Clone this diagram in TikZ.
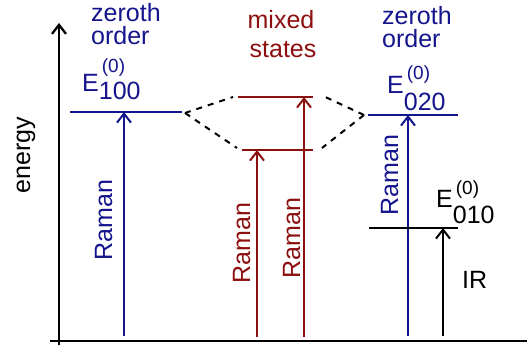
\documentclass[tikz,border=0pt]{standalone}
\usepackage{fontspec}
\setmainfont{Liberation Sans}
\usetikzlibrary{arrows.meta}
\definecolor{zblue}{RGB}{20,20,140}
\definecolor{mred}{RGB}{140,15,15}
\newcommand{\Elab}[3]{E\rlap{\hspace{3pt}\raisebox{#1}{\fontsize{19}{19}\selectfont(0)}}\raisebox{-#2}{#3}}
\begin{document}
\begin{tikzpicture}[x=1pt,y=-1pt,
  every node/.style={inner sep=0pt, font=\fontsize{25}{23}\selectfont},
  lvl/.style={line width=2.3pt},
  tr/.style={line width=2pt, -{Straight Barb[length=9pt,width=14pt]}},
  conn/.style={line width=2pt, dash pattern=on 6pt off 6pt},
  lab/.style={anchor=base west},
  clab/.style={anchor=base},
  vlab/.style={rotate=90, anchor=base}]
\useasboundingbox (0,0) rectangle (527,345);
% axes
\coordinate (ytop) at (59,23);
\coordinate (ybot) at (59,345);
\coordinate (xl) at (50,341);
\coordinate (xr) at (527,341);
\draw[line width=2.3pt, -{Straight Barb[length=9pt,width=14pt]}] (ybot) -- (ytop);
\draw[line width=2.3pt] (xl) -- (xr);
\node[vlab] (energy) at (30,155) {energy};
% left zeroth order
\node[lab, text=zblue] (zt1) at (91,22) {zeroth};
\node[lab, text=zblue] (zo1) at (91,45) {order};
\node[lab, text=zblue] (e100) at (82,92) {\Elab{19pt}{8pt}{100}};
\coordinate (l100w) at (70,112);
\coordinate (l100e) at (182,112);
\draw[lvl, zblue] (l100w) -- (l100e);
\coordinate (r1b) at (124,336);
\coordinate (r1t) at (124,112);
\draw[tr, zblue] (r1b) -- (r1t);
\node[vlab, text=zblue] (ram1) at (112,220) {Raman};
% mixed states
\node[clab, text=mred] (mx) at (281,29) {mixed};
\node[clab, text=mred] (st) at (283,58) {states};
\coordinate (upw) at (238,97);
\coordinate (upe) at (313,97);
\coordinate (lowjw) at (242,150);
\coordinate (lowe) at (313,150);
\draw[lvl, mred] (upw) -- (upe);
\draw[lvl, mred] (lowjw) -- (lowe);
\coordinate (r2b) at (257,337);
\coordinate (r2t) at (257,150);
\coordinate (r3b) at (304,337);
\coordinate (r3t) at (304,97);
\draw[tr, mred] (r2b) -- (r2t);
\draw[tr, mred] (r3b) -- (r3t);
\node[vlab, text=mred] (ram2) at (250,243) {Raman};
\node[vlab, text=mred] (ram3) at (300,238) {Raman};
% dashed connectors
\coordinate (lapex) at (185,113);
\coordinate (rapex) at (364,115);
\coordinate (d1) at (233,97);
\coordinate (d2) at (237,148);
\coordinate (d3) at (321,95);
\coordinate (d4) at (322,148);
\draw[conn] (lapex) -- (d1);
\draw[conn] (lapex) -- (d2);
\draw[conn] (rapex) -- (d3);
\draw[conn] (rapex) -- (d4);
% right zeroth order
\node[lab, text=zblue] (zt2) at (382,25) {zeroth};
\node[lab, text=zblue] (zo2) at (382,48) {order};
\node[lab, text=zblue] (e020) at (387,93) {\Elab{14pt}{17pt}{020}};
\coordinate (l020w) at (368,115);
\coordinate (l020e) at (458,115);
\draw[lvl, zblue] (l020w) -- (l020e);
\coordinate (r4b) at (408,336);
\coordinate (r4t) at (408,115);
\draw[tr, zblue] (r4b) -- (r4t);
\node[vlab, text=zblue] (ram4) at (398,175) {Raman};
% E010
\node[lab] (e010) at (436,207) {\Elab{13pt}{16pt}{010}};
\coordinate (l010w) at (369,228);
\coordinate (l010e) at (458,228);
\draw[lvl] (l010w) -- (l010e);
\coordinate (irb) at (443,336);
\coordinate (irt) at (443,228);
\draw[tr] (irb) -- (irt);
\node[lab] (ir) at (462,288) {IR};
\end{tikzpicture}
\end{document}
